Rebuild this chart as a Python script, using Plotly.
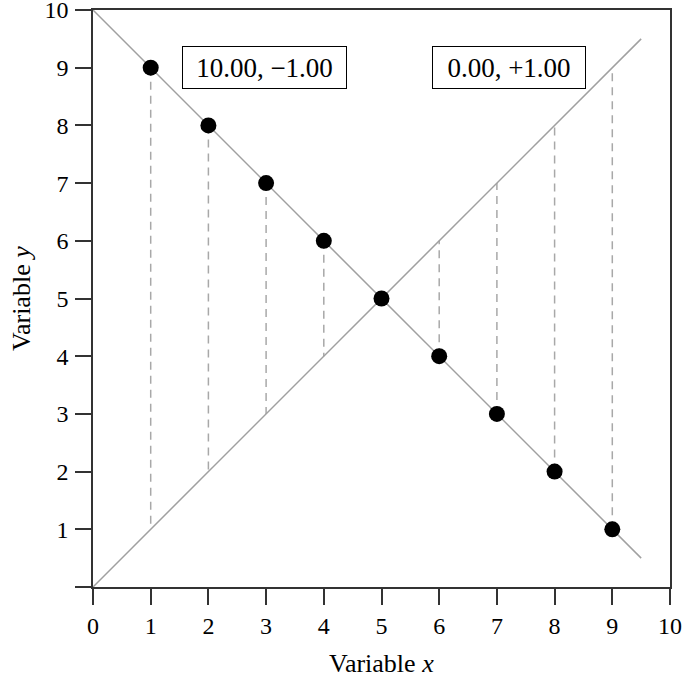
import plotly.graph_objects as go

x_points = [1, 2, 3, 4, 5, 6, 7, 8, 9]
y_points = [9, 8, 7, 6, 5, 4, 3, 2, 1]
line_a = {"intercept": 10.0, "slope": -1.0}
line_b = {"intercept": 0.0, "slope": 1.0}
line_x_range = [0, 9.5]
label_positions_x = [2.97, 7.21]
label_y = 9
x_ticks = list(range(0, 11))
y_ticks = list(range(0, 11))

FONT = "Liberation Serif"
TICK_FS = 24
TITLE_FS = 26
BOX_FS = 27

def line_y(line, x):
    return line["intercept"] + line["slope"] * x

fig = go.Figure()

# residual dashed segments (from point to line b)
dx, dy = [], []
for xp, yp in zip(x_points, y_points):
    dx += [xp, xp, None]
    dy += [yp, line_y(line_b, xp), None]
fig.add_trace(go.Scatter(x=dx, y=dy, mode="lines",
                         line=dict(color="#a8a8a8", width=1.5, dash="8px,6px"),
                         hoverinfo="skip", showlegend=False))

for ln in (line_a, line_b):
    fig.add_trace(go.Scatter(x=line_x_range, y=[line_y(ln, v) for v in line_x_range],
                             mode="lines", line=dict(color="#a0a0a0", width=1.5),
                             showlegend=False))

fig.add_trace(go.Scatter(x=x_points, y=y_points, mode="markers",
                         marker=dict(color="black", size=16), showlegend=False))

def fmt(v, signed=False):
    s = f"{abs(v):.2f}"
    if signed:
        return ("+" if v >= 0 else "\u2212") + s
    return ("\u2212" if v < 0 else "") + s

for ln, xpos, w in zip((line_a, line_b), label_positions_x, (151, 140)):
    fig.add_annotation(x=xpos, y=label_y, xref="x", yref="y",
                       text=f"{fmt(ln['intercept'])}, {fmt(ln['slope'], True)}",
                       showarrow=False, font=dict(family=FONT, size=BOX_FS, color="black"),
                       width=w, height=29, align="center", valign="middle",
                       bordercolor="black", borderwidth=1, borderpad=6, bgcolor="white")

# axis titles
fig.add_annotation(x=0.5, y=-0.133, xref="paper", yref="paper", text="Variable <i>x</i>",
                   showarrow=False, font=dict(family=FONT, size=TITLE_FS, color="black"),
                   xanchor="center", yanchor="middle")
fig.add_annotation(x=-0.124, y=0.5, xref="paper", yref="paper", text="Variable <i>y</i>",
                   showarrow=False, font=dict(family=FONT, size=TITLE_FS, color="black"),
                   xanchor="center", yanchor="middle", textangle=-90)

axis_common = dict(showline=True, linecolor="#333333", linewidth=1.5, mirror=True,
                   ticks="outside", ticklen=16, tickwidth=1.5, tickcolor="#333333",
                   showgrid=False, zeroline=False, automargin=False,
                   ticklabeloverflow="allow",
                   tickfont=dict(family=FONT, size=TICK_FS, color="black"))

fig.update_xaxes(range=[0, 10], tickvals=x_ticks, ticktext=[str(t) for t in x_ticks],
                 **axis_common)
fig.update_yaxes(range=[0, 10], tickvals=y_ticks,
                 ticktext=["" if t == 0 else str(t) for t in y_ticks],
                 ticklabelstandoff=2, **axis_common)

fig.update_layout(width=685, height=677, plot_bgcolor="white", paper_bgcolor="white",
                  margin=dict(l=93, r=15, t=10, b=90))

fig.write_html("out.html", config={"displayModeBar": False},
               post_script="document.body.style.margin='0px';document.body.style.overflow='hidden';")
